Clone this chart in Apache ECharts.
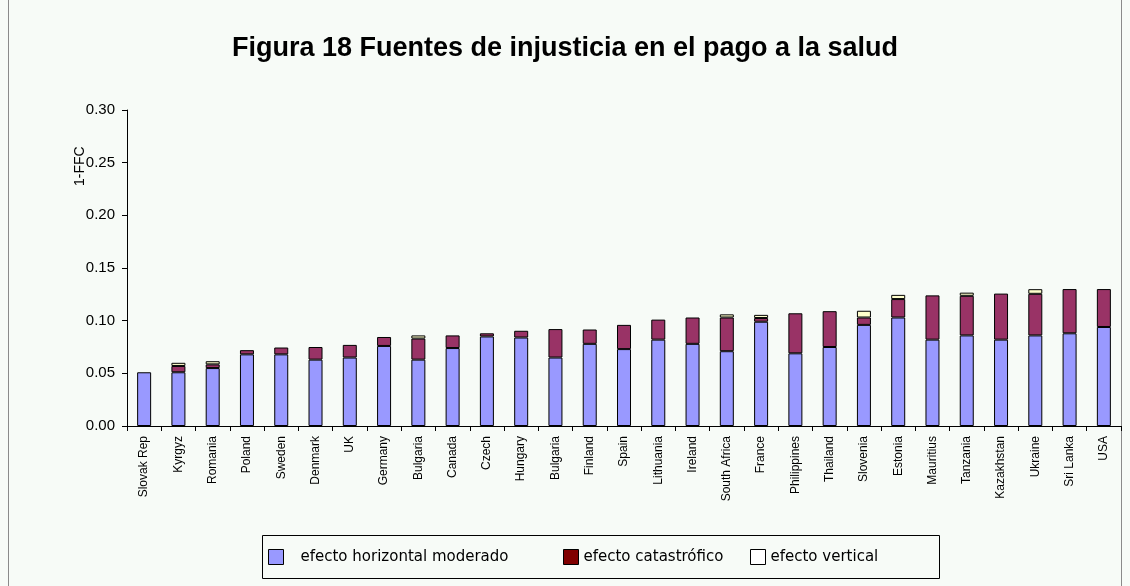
<!DOCTYPE html>
<html>
<head>
<meta charset="utf-8">
<script src="https://cdn.jsdelivr.net/npm/echarts@6/dist/echarts.min.js"></script>
<style>
  html, body { margin: 0; padding: 0; background: #f7fbf7; }
  #chart { width: 1130px; height: 586px; }
</style>
</head>
<body>
<div id="chart"></div>
<script>
// Figura 18: stacked 1-FFC components per country
const countries = ['Slovak Rep', 'Kyrgyz', 'Romania', 'Poland', 'Sweden', 'Denmark', 'UK', 'Germany',
  'Bulgaria', 'Canada', 'Czech', 'Hungary', 'Bulgaria', 'Finland', 'Spain', 'Lithuania', 'Ireland',
  'South Africa', 'France', 'Philippines', 'Thailand', 'Slovenia', 'Estonia', 'Mauritius', 'Tanzania',
  'Kazakhstan', 'Ukraine', 'Sri Lanka', 'USA'];

const horizontal = [0.051, 0.051, 0.055, 0.068, 0.068, 0.063, 0.065, 0.076, 0.063, 0.074, 0.085, 0.084,
  0.065, 0.078, 0.073, 0.082, 0.078, 0.071, 0.099, 0.069, 0.075, 0.096, 0.103, 0.082, 0.086, 0.082,
  0.086, 0.088, 0.094];

const catastrophic = [0, 0.006, 0.0035, 0.004, 0.0065, 0.012, 0.012, 0.0085, 0.020, 0.012, 0.003, 0.0064,
  0.027, 0.0136, 0.023, 0.019, 0.025, 0.032, 0.0035, 0.038, 0.034, 0.007, 0.0175, 0.042, 0.0376, 0.0437,
  0.0395, 0.042, 0.036];

const vertical = [0, 0.003, 0.003, 0, 0, 0, 0, 0, 0.003, 0, 0, 0, 0, 0, 0, 0, 0, 0.003, 0.003, 0, 0,
  0.0064, 0.004, 0, 0.003, 0, 0.0044, 0, 0];

const yTicks = { min: 0, max: 0.3, interval: 0.05 };

const seriesNames = ['efecto horizontal moderado', 'efecto catastrófico', 'efecto vertical'];

const font = 'Liberation Sans, Arial, sans-serif';
const chart = echarts.init(document.getElementById('chart'));

function bar(name, values, color) {
  return {
    name: name,
    type: 'bar',
    stack: 'ffc',
    barWidth: 14,
    itemStyle: { color: color, borderColor: '#000', borderWidth: 1 },
    data: values.map(v => (v > 0 ? v : '-'))
  };
}

function legendItem(name, left, iconColor, pad) {
  return {
    left: left, top: 549,
    itemWidth: 15, itemHeight: 15,
    icon: 'rect',
    selectedMode: false,
    padding: 0,
    data: [{ name: name, itemStyle: { color: iconColor, borderColor: '#000', borderWidth: 1 } }],
    textStyle: { fontFamily: 'DejaVu Sans, sans-serif', fontSize: 15, color: '#000', padding: [0, 0, 0, pad] }
  };
}

chart.setOption({
  backgroundColor: '#f7fbf7',
  animation: false,
  title: {
    text: 'Figura 18 Fuentes de injusticia en el pago a la salud',
    left: 'center', top: 30,
    textStyle: { fontFamily: font, fontWeight: 'bold', fontSize: 27, color: '#000' }
  },
  legend: [
    legendItem(seriesNames[0], 268, '#9999ff', 12),
    legendItem(seriesNames[1], 563, '#800000', 0),
    legendItem(seriesNames[2], 750, '#ffffff', 0)
  ],
  grid: { left: 127, right: 9, top: 110, bottom: 160 },
  xAxis: {
    type: 'category',
    data: countries,
    axisLine: { lineStyle: { color: '#000', width: 1 } },
    axisTick: { show: true, length: 5, lineStyle: { color: '#000' } },
    axisLabel: { rotate: 90, interval: 0, fontFamily: font, fontSize: 12, color: '#000', margin: 10 }
  },
  yAxis: {
    type: 'value',
    min: yTicks.min, max: yTicks.max, interval: yTicks.interval,
    axisLine: { show: true, lineStyle: { color: '#000', width: 1 } },
    axisTick: { show: true, length: 5, lineStyle: { color: '#000' } },
    splitLine: { show: false },
    axisLabel: { fontFamily: font, fontSize: 15, color: '#000', margin: 12, formatter: v => v.toFixed(2) }
  },
  graphic: [
    {
      type: 'text', x: 73, y: 186, rotation: Math.PI / 2,
      style: { text: '1-FFC', fontFamily: font, fontSize: 14, fill: '#000' }
    },
    {
      type: 'rect', shape: { x: 262.5, y: 535.5, width: 677, height: 43 },
      style: { fill: 'none', stroke: '#000', lineWidth: 1 }, z: -1
    },
    {
      type: 'rect', shape: { x: 8.5, y: -2, width: 1113, height: 592 },
      style: { fill: 'none', stroke: '#8a8a8a', lineWidth: 1 }, z: -1
    }
  ],
  series: [
    bar(seriesNames[0], horizontal, '#9999ff'),
    bar(seriesNames[1], catastrophic, '#993366'),
    bar(seriesNames[2], vertical, '#ffffcc')
  ]
});
</script>
</body>
</html>
